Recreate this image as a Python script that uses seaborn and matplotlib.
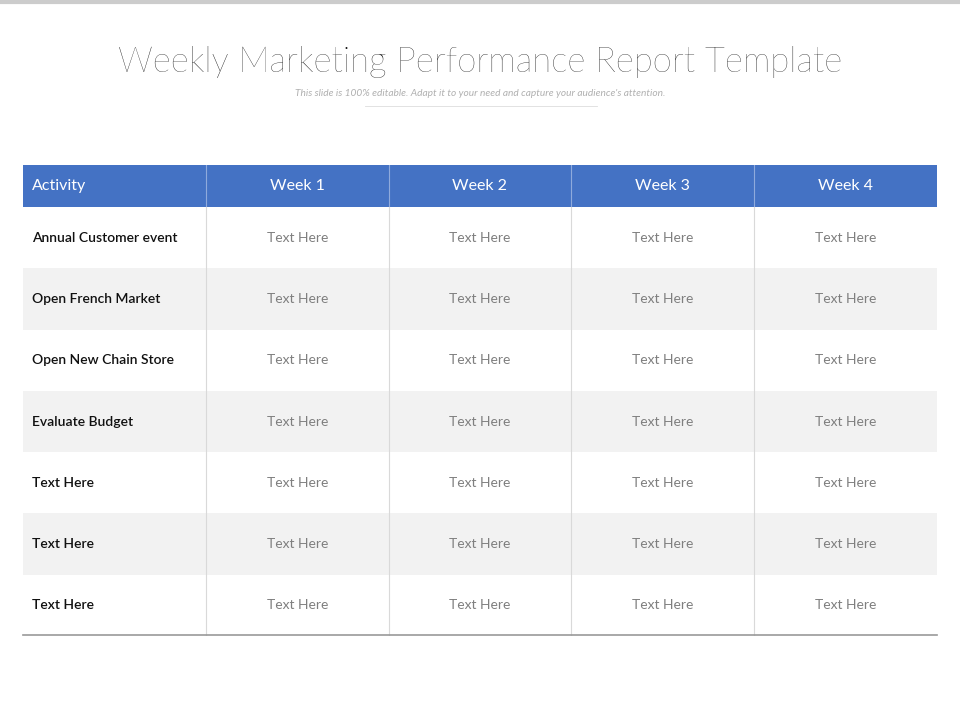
import matplotlib
matplotlib.use("Agg")
import matplotlib.pyplot as plt
import seaborn as sns
import numpy as np
from matplotlib.colors import ListedColormap

columns = ["Activity", "Week 1", "Week 2", "Week 3", "Week 4"]
activities = ["Annual Customer event", "Open French Market", "Open New Chain Store",
              "Evaluate Budget", "Text Here", "Text Here", "Text Here"]
cell_text = ["Text Here"] * 4
title = "Weekly Marketing Performance Report Template"
subtitle = "This slide is 100% editable. Adapt it to your need and capture your audience's attention."

W, H = 960, 720
fig = plt.figure(figsize=(9.6, 7.2), dpi=100)
fig.patch.set_facecolor("white")
font = "Lato"

fig.text(0.5, 1 - 62 / H, title, ha="center", va="center", fontsize=25, color="#111111",
         family=font, fontweight="light")
fig.text(0.5, 1 - 94 / H, subtitle, ha="center", va="center", fontsize=7.3, color="#b0b0b0",
         style="italic", family=font)
fig.add_artist(plt.Line2D([365 / W, 597 / W], [1 - 106 / H] * 2, color="#dddddd", lw=0.6))
fig.add_artist(plt.Line2D([0, 1], [1 - 1.5 / H] * 2, color="#cccccc", lw=3))

x0, x1 = 23, 937
hy0, hy1, by1 = 165, 207, 636

# Header
axh = fig.add_axes([x0 / W, 1 - hy1 / H, (x1 - x0) / W, (hy1 - hy0) / H])
sns.heatmap(np.zeros((1, 5)), ax=axh, cmap=ListedColormap(["#4472c4"]), cbar=False,
            linewidths=0)
for j in range(1, 5):
    axh.axvline(j, color="#8faadc", lw=0.8)
for j, c in enumerate(columns):
    if j == 0:
        axh.text(0.05, 0.5, c, ha="left", va="center", color="white", fontsize=11.5, family=font)
    else:
        axh.text(j + 0.5, 0.5, c, ha="center", va="center", color="white", fontsize=11.5, family=font)
axh.set_axis_off()

# Body
n = len(activities)
shade = np.array([[i % 2] * 5 for i in range(n)], dtype=float)
axb = fig.add_axes([x0 / W, 1 - by1 / H, (x1 - x0) / W, (by1 - hy1) / H])
sns.heatmap(shade, ax=axb, cmap=ListedColormap(["#ffffff", "#f2f2f2"]), cbar=False,
            linewidths=0, vmin=0, vmax=1)
for j in range(1, 5):
    axb.axvline(j, color="#d9d9d9", lw=0.8)
axb.axhline(n - 0.01, color="#999999", lw=1.2, clip_on=False)
for i, a in enumerate(activities):
    axb.text(0.05, i + 0.5, a, ha="left", va="center", fontsize=10, color="#111111",
             family=font, fontweight="semibold")
    for j, t in enumerate(cell_text):
        axb.text(j + 1.5, i + 0.5, t, ha="center", va="center", fontsize=10, color="#7f7f7f", family=font)
axb.set_axis_off()

fig.savefig("out.png", dpi=100, facecolor="white")
